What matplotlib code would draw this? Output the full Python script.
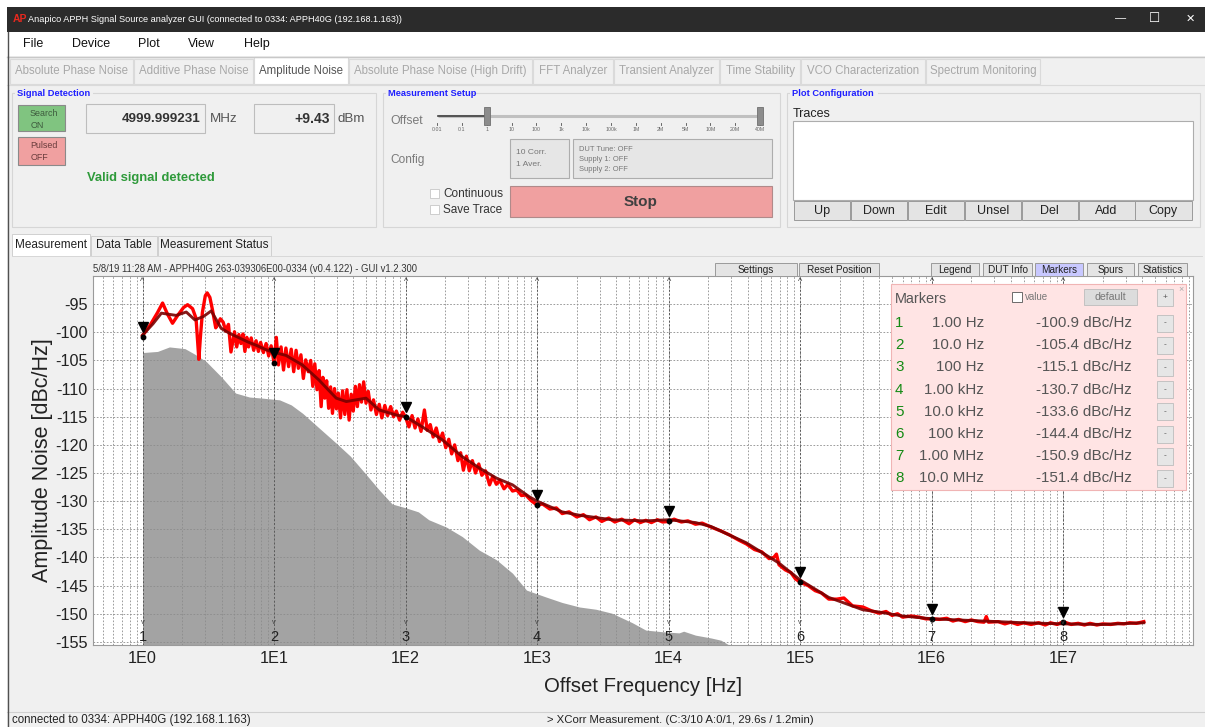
import matplotlib
matplotlib.use("Agg")
import matplotlib.pyplot as plt
from matplotlib.patches import Rectangle
from matplotlib.transforms import ScaledTranslation

plt.rcParams['font.family'] = ['Liberation Sans', 'DejaVu Sans']

# ---- chart data ----
marker_freqs = [1.0, 10.0, 100.0, 1e3, 1e4, 1e5, 1e6, 1e7]
marker_vals = [-100.9, -105.4, -115.1, -130.7, -133.6, -144.4, -150.9, -151.4]
marker_freq_labels = ["1.00 Hz", "10.0 Hz", "100 Hz", "1.00 kHz", "10.0 kHz", "100 kHz", "1.00 MHz", "10.0 MHz"]

# measured trace (noisy, bright red)
red_f = [1.0, 1.15, 1.3, 1.42, 1.55, 1.69, 1.85, 2.05, 2.2, 2.4, 2.55, 2.62, 2.68, 2.75, 2.85,
         3.0, 3.1, 3.25, 3.4, 3.6, 3.75, 3.9, 4.1, 4.3, 4.5, 4.7,
         5.0, 5.2, 5.4, 5.6, 5.8, 6.0, 6.2, 6.4, 6.7, 7.0, 7.3, 7.6, 7.9, 8.3, 8.7, 9.1, 9.5,
         10.0, 10.4, 10.8, 11.3, 11.8, 12.3, 12.9, 13.5, 14.1, 14.7, 15.3, 16.0, 16.7, 17.4,
         18.2, 19.0, 19.7, 20.4, 21.2, 22.0, 22.8, 23.5, 24.3, 25.1, 26.0, 26.9, 27.8, 28.8,
         29.8, 30.8, 32.0, 33.2, 34.5, 35.8, 37.2, 38.6, 40.0, 41.5, 43.0, 44.6, 46.2, 48.0,
         50.0, 52.0, 54.5, 57.0, 60.0, 63.0, 66.0, 69.5, 73.0, 77.0, 81.0, 85.0, 90.0, 95.0,
         100.0, 106.0, 112.0, 118.0, 124.0, 131.0, 139.0, 146.0, 154.0, 162.0, 171.0, 181.0,
         191.0, 202.0, 213.0, 224.0, 236.0, 250.0, 262.0, 275.0, 290.0, 305.0, 322.0, 340.0,
         360.0, 380.0, 405.0, 435.0, 460.0, 490.0, 520.0, 560.0, 600.0, 650.0, 700.0, 760.0,
         820.0, 900.0, 1000.0,
         1100.0, 1250.0, 1400.0, 1550.0, 1750.0, 2000.0, 2250.0, 2500.0, 2800.0, 3100.0, 3500.0,
         3900.0, 4400.0, 5000.0, 5500.0, 6100.0, 6700.0, 7400.0, 8200.0, 9000.0, 10000.0,
         11000.0, 12500.0, 14000.0, 16000.0, 18000.0, 21000.0, 25000.0, 29000.0, 34000.0,
         39000.0, 45000.0, 51000.0, 58000.0, 63000.0, 66000.0, 69000.0, 77000.0, 85000.0,
         92000.0, 1e5, 1.15e5, 1.3e5, 1.45e5, 1.65e5, 1.9e5, 2.15e5, 2.5e5, 3e5, 3.5e5, 4e5,
         4.5e5, 5e5, 5.5e5, 6e5, 7e5, 8e5, 9e5, 1e6, 1.15e6, 1.3e6, 1.45e6, 1.6e6, 1.8e6, 2e6,
         2.25e6, 2.5e6, 2.6e6, 2.7e6, 3.2e6, 3.6e6, 4e6, 4.5e6, 5e6, 5.7e6, 6.5e6, 7.3e6, 8e6,
         9e6, 1e7, 1.15e7, 1.3e7, 1.45e7, 1.6e7, 1.8e7, 2e7, 2.3e7, 2.6e7, 2.9e7, 3.2e7, 3.6e7,
         4.1e7]
red_v = [-100.6, -98.6, -96.5, -94.8, -96.8, -98.4, -97.0, -95.6, -95.1, -95.8, -97.5, -101.5,
         -104.8, -101.0, -96.5, -93.5, -93.0, -93.8, -96.0, -99.2, -98.5, -97.6, -98.2, -99.8,
         -98.6, -103.5,
         -99.9, -102.6, -100.4, -102.0, -100.3, -103.4, -100.9, -102.6, -101.0, -103.2, -101.5,
         -103.4, -101.8, -103.6, -102.0, -104.2, -102.4,
         -105.4, -100.9, -105.8, -102.6, -106.7, -102.8, -106.1, -103.0, -107.0, -103.2, -106.4,
         -104.0, -108.2, -104.9, -107.0, -105.0, -109.6, -105.6, -110.2, -106.8, -113.2, -108.0,
         -111.7, -108.6, -113.5, -109.7, -114.4, -110.0, -113.6, -110.8, -115.2, -110.4, -114.6,
         -110.2, -115.6, -111.0, -114.0, -109.6, -113.2, -109.3, -112.4, -108.8, -112.6, -110.5,
         -113.8, -112.0, -114.6, -112.8, -115.2, -113.0, -114.8, -113.2, -115.0, -114.0, -115.6,
         -114.2, -115.1, -116.8, -114.8, -117.0, -115.4, -117.6, -113.8, -117.4, -116.4, -118.6,
         -117.0, -119.4, -117.9, -120.5, -119.0, -121.6, -120.0, -122.8, -121.4, -124.5, -122.0,
         -124.6, -122.8, -125.0, -123.4, -125.4, -124.6, -127.1, -125.6, -127.0, -126.3, -127.8,
         -127.0, -128.2, -128.0, -129.0, -128.9, -129.9, -130.7,
         -130.5, -131.4, -131.2, -132.2, -131.9, -132.8, -132.4, -133.3, -132.8, -133.6, -133.0,
         -133.7, -133.2, -134.0, -133.3, -133.8, -133.4, -133.8, -133.3, -133.7, -133.6, -133.2,
         -133.7, -133.5, -134.1, -133.9, -134.6, -135.3, -136.0, -136.9, -137.6, -138.6, -139.0,
         -140.2, -140.0, -139.4, -141.3, -142.2, -142.7, -143.8, -144.4, -145.0, -145.9, -146.3,
         -147.4, -147.4, -147.2, -148.6, -148.8, -149.5, -149.9, -149.6, -150.3, -150.0, -150.6,
         -150.4, -150.6, -150.9, -150.9, -151.0, -150.8, -151.3, -151.0, -151.4, -151.1, -151.4,
         -151.5, -150.5, -151.5, -151.4, -151.8, -151.5, -151.9, -151.6, -151.9, -151.6, -152.0,
         -151.6, -151.9, -151.4, -151.9, -151.7, -152.0, -151.7, -152.0, -151.8, -151.9, -151.7,
         -151.8, -151.6, -151.7, -151.4]

# averaged trace (dark red)
smooth_f = [1.0, 1.2, 1.39, 1.8, 2.15, 2.5, 2.9, 3.33, 3.96, 4.6, 5.45, 6.3, 7.3, 8.5, 9.7,
            12.3, 16.4, 22.0, 26.0, 29.7, 35.4, 42.0, 50.0, 63.0, 85.0, 100.0, 134.0, 190.0,
            270.0, 363.0, 490.0, 650.0, 870.0, 1000.0, 1550.0, 2100.0, 3700.0, 6700.0, 10000.0,
            16000.0, 21000.0, 39000.0, 69000.0, 1e5, 1.65e5, 3e5, 4e5, 6e5, 1e6, 2e6, 5e6, 1e7,
            2e7, 4.1e7]
smooth_v = [-100.5, -98.5, -96.6, -97.0, -96.4, -97.8, -97.2, -96.2, -99.3, -100.2, -101.0,
            -101.7, -102.3, -103.0, -103.5, -104.1, -105.8, -108.5, -110.3, -111.7, -112.3,
            -112.0, -111.7, -113.8, -114.7, -115.0, -116.8, -119.1, -122.1, -124.1, -125.9,
            -127.1, -129.2, -130.0, -131.9, -132.5, -133.3, -133.5, -133.3, -133.8, -134.5,
            -137.4, -141.0, -144.0, -147.1, -149.3, -149.7, -150.4, -150.9, -151.2, -151.6,
            -151.8, -151.9, -151.6]

# sensitivity floor (grey area)
floor_f = [1.0, 1.3, 1.6, 2.1, 2.5, 3.05, 4.0, 5.1, 6.5, 8.2, 11.0, 13.5, 16.5, 22.0, 29.7,
           38.0, 47.0, 63.0, 79.0, 101.0, 125.0, 150.0, 204.0, 270.0, 363.0, 490.0, 650.0,
           830.0, 1160.0, 1550.0, 2100.0, 2800.0, 3700.0, 5300.0, 6700.0, 9000.0, 12000.0,
           13000.0, 16000.0, 21000.0, 25000.0, 29000.0]
floor_v = [-103.6, -103.4, -102.6, -102.9, -103.9, -105.2, -108.0, -110.8, -111.5, -111.7,
           -112.0, -112.9, -114.4, -117.0, -119.7, -122.0, -124.5, -128.0, -130.5, -131.2,
           -131.9, -133.3, -134.6, -136.3, -138.7, -140.4, -142.8, -145.8, -147.0, -148.0,
           -148.8, -149.2, -149.9, -151.6, -152.9, -153.2, -153.4, -153.1, -153.8, -154.3,
           -154.7, -155.6]

x_tick_vals = [1e0, 1e1, 1e2, 1e3, 1e4, 1e5, 1e6, 1e7]
x_tick_labels = ["1E0", "1E1", "1E2", "1E3", "1E4", "1E5", "1E6", "1E7"]
y_tick_vals = list(range(-155, -94, 5))

W, H = 1205, 727
fig = plt.figure(figsize=(W / 100, H / 100), dpi=100)
fig.patch.set_facecolor("white")

# background GUI layer in pixel coordinates
bg = fig.add_axes([0, 0, 1, 1], zorder=0)
bg.set_xlim(0, W)
bg.set_ylim(H, 0)
bg.axis("off")

PANEL = "#f0f0f0"
EDGE = "#a9a9a9"
TXT = "#333333"
BLUE = "#1f1fff"


def box(a, x0, y0, x1, y1, fc=PANEL, ec=EDGE, lw=0.8, z=1):
    a.add_patch(Rectangle((x0, y0), x1 - x0, y1 - y0, facecolor=fc, edgecolor=ec, linewidth=lw, zorder=z))


def txt(a, x, y, s, size=8, color=TXT, ha="left", va="center", weight="normal", z=3, **kw):
    a.text(x, y, s, fontsize=size, color=color, ha=ha, va=va, fontweight=weight, zorder=z, **kw)


# window frame
box(bg, 7, 7, W, H, fc=PANEL, ec="none", z=0)
box(bg, 7, 7, W, 32, fc="#2b2b2b", ec="none")
bg.plot([7.5, 7.5], [32, H], color="#505050", lw=1, zorder=4)
txt(bg, 13, 19.5, "AP", 7.5, "#e8281e", weight="bold")
txt(bg, 28, 19.5, "Anapico APPH Signal Source analyzer GUI (connected to 0334: APPH40G (192.168.1.163))", 6.6, "white")
txt(bg, 1121, 18, "\u2014", 8, "white", ha="center")
txt(bg, 1155, 18.5, "\u2610", 9, "white", ha="center", family=["DejaVu Sans"])
txt(bg, 1190, 18.5, "\u2715", 8, "white", ha="center", family=["DejaVu Sans"])

# menu bar
box(bg, 7, 32, W, 56, fc="white", ec="none")
for label, x in [("File", 23), ("Device", 72), ("Plot", 138), ("View", 188), ("Help", 244)]:
    txt(bg, x, 44, label, 9, "#111111")
bg.plot([7, W], [56.5, 56.5], color="#c8c8c8", lw=1, zorder=2)

# analysis tabs
tabs = [("Absolute Phase Noise", 10, 133), ("Additive Phase Noise", 134, 253),
        ("Amplitude Noise", 254, 348), ("Absolute Phase Noise (High Drift)", 349, 532),
        ("FFT Analyzer", 533, 613), ("Transient Analyzer", 614, 719),
        ("Time Stability", 720, 800), ("VCO Characterization", 801, 925),
        ("Spectrum Monitoring", 926, 1040)]
for label, x0, x1 in tabs:
    sel = label == "Amplitude Noise"
    box(bg, x0, 59 if not sel else 57, x1, 84, fc="white" if sel else PANEL, ec="#dadada", lw=0.8)
    txt(bg, (x0 + x1) / 2, 71, label, 8.3, "#555555" if sel else "#a8a8a8", ha="center")
bg.plot([7, W], [84.5, 84.5], color="#dadada", lw=0.8, zorder=2)

# group boxes
for title, x0, x1 in [("Signal Detection", 12, 376), ("Measurement Setup", 383, 780),
                      ("Plot Configuration", 787, 1200)]:
    box(bg, x0, 93, x1, 227, fc=PANEL, ec="#d6d6d6", lw=0.8)
    bg.add_patch(Rectangle((x0 + 3, 88), len(title) * 4.9, 10, facecolor=PANEL, edgecolor="none", zorder=2))
    txt(bg, x0 + 5, 93.5, title, 6.7, BLUE, weight="bold")

# signal detection
box(bg, 18, 105, 65, 131, fc="#80c480", ec="#8a8a8a")
txt(bg, 44, 113, "Search", 6.4, "#3d5a3d", ha="center")
txt(bg, 31, 125, "ON", 6.4, "#3d5a3d")
box(bg, 18, 137, 65, 165, fc="#f0a0a0", ec="#8a8a8a")
txt(bg, 44, 145.5, "Pulsed", 6.4, "#6a3d3d", ha="center")
txt(bg, 31, 157.5, "OFF", 6.4, "#6a3d3d")
box(bg, 86, 104, 205, 133, fc=PANEL, ec="#bdbdbd")
txt(bg, 201, 119, "4999.999231", 9.6, "#333333", ha="right", weight="bold")
txt(bg, 210, 119, "MHz", 9.6, "#555555")
box(bg, 254, 104, 334, 133, fc=PANEL, ec="#bdbdbd")
txt(bg, 330, 119, "+9.43", 10, "#333333", ha="right", weight="bold")
txt(bg, 338, 119, "dBm", 9.6, "#555555")
txt(bg, 87, 178.5, "Valid signal detected", 9.4, "#2e9a3a", weight="bold")

# measurement setup
txt(bg, 390, 121, "Offset", 8.8, "#7a7a7a")
bg.plot([438, 762], [116, 116], color="#c0c0c0", lw=2.2, zorder=2, solid_capstyle="butt")
bg.plot([438, 487], [116, 116], color="#404040", lw=1.2, zorder=2)
box(bg, 484, 107, 490, 125, fc="#8c8c8c", ec="#707070", lw=0.6, z=3)
box(bg, 757, 107, 763, 125, fc="#8c8c8c", ec="#707070", lw=0.6, z=3)
slider_labels = ["0.01", "0.1", "1", "10", "100", "1k", "10k", "100k", "1M", "2M", "5M", "10M", "20M", "40M"]
for i, lab in enumerate(slider_labels):
    xs = 437 + i * 24.85
    bg.plot([xs, xs], [123, 125], color="#505050", lw=0.6, zorder=2)
    txt(bg, xs, 129.5, lab, 3.8, "#666666", ha="center")
txt(bg, 390, 160, "Config", 8.6, "#7a7a7a")
box(bg, 510, 139, 569, 178, fc="#e6e6e6", ec="#adadad")
txt(bg, 516, 153, "10 Corr.", 6.1, "#777777")
txt(bg, 516, 165, "1 Aver.", 6.1, "#777777")
box(bg, 573, 139, 772, 178, fc="#e6e6e6", ec="#adadad")
for j, line in enumerate(["DUT Tune: OFF", "Supply 1: OFF", "Supply 2: OFF"]):
    txt(bg, 579, 149.5 + j * 10, line, 5.4, "#777777")
for j, label in enumerate(["Continuous", "Save Trace"]):
    box(bg, 430, 189 + j * 16, 439, 198 + j * 16, fc="white", ec="#c6c6c6", lw=0.6)
    txt(bg, 443, 194 + j * 16, label, 8.5, "#333333")
box(bg, 510, 186, 772, 217, fc="#f0a0a0", ec="#b08a8a")
txt(bg, 641, 202, "Stop", 11, "#404040", ha="center", weight="bold")

# plot configuration
txt(bg, 793, 114, "Traces", 9, "#222222")
box(bg, 793, 121, 1193, 200, fc="white", ec="#adadad")
for j, label in enumerate(["Up", "Down", "Edit", "Unsel", "Del", "Add", "Copy"]):
    x0 = 794 + j * 56.9
    box(bg, x0, 201, x0 + 56.3, 220, fc="#e4e4e4", ec="#9a9a9a", lw=0.7)
    txt(bg, x0 + 28, 211, label, 9, "#222222", ha="center")

# measurement tabs
for label, x0, x1 in [("Measurement", 12, 90), ("Data Table", 91, 157), ("Measurement Status", 158, 271)]:
    sel = label == "Measurement"
    box(bg, x0, 234 if sel else 236, x1, 256, fc="white" if sel else PANEL, ec="#d0d0d0", lw=0.7)
    txt(bg, (x0 + x1) / 2, 245.5, label, 8.5, "#222222", ha="center")
bg.plot([12, 1202], [256, 256], color="#d8d8d8", lw=0.7, zorder=2)
bg.plot([7, W], [711.5, 711.5], color="#d0d0d0", lw=0.8, zorder=2)
txt(bg, 12, 720, "connected to 0334: APPH40G (192.168.1.163)", 8.3, "#222222")
txt(bg, 547, 720, "> XCorr Measurement. (C:3/10 A:0/1, 29.6s / 1.2min)", 8.2, "#222222")

txt(bg, 93, 269.5, "5/8/19 11:28 AM - APPH40G 263-039306E00-0334 (v0.4.122) - GUI v1.2.300", 6.85, "#333333")

# ---- main chart ----
ax_l, ax_t, ax_r, ax_b = 93, 276, 1193, 645
ax = fig.add_axes([ax_l / W, 1 - ax_b / H, (ax_r - ax_l) / W, (ax_b - ax_t) / H], zorder=1)
ax.set_xscale("log")
ax.set_xlim(0.42, 9.7e7)
ax.set_ylim(-155.55, -90)
ax.set_axisbelow("line")

ax.fill_between(floor_f, floor_v, -160, color="#a3a3a3", linewidth=0, zorder=1)
ax.plot(red_f, red_v, color="#ff0000", lw=2.4, zorder=2, solid_joinstyle="round")
ax.plot(smooth_f, smooth_v, color="#7a0000", lw=2.1, alpha=0.9, zorder=3, solid_joinstyle="round")

ax.set_xticks(x_tick_vals)
ax.set_xticklabels(x_tick_labels)
ax.set_yticks(y_tick_vals)
ax.set_yticklabels([str(v) for v in y_tick_vals])
ax.tick_params(axis="both", which="both", length=0, labelsize=11.7, colors="#222222", pad=4)
ax.grid(True, which="both", axis="x", color="#8c8c8c", linestyle=(0, (2, 2)), linewidth=0.6)
ax.grid(True, which="major", axis="y", color="#8c8c8c", linestyle=(0, (2, 2)), linewidth=0.6)
for s in ax.spines.values():
    s.set_color("#9a9a9a")
    s.set_linewidth(0.8)
ax.set_xlabel("Offset Frequency [Hz]", fontsize=14.7, color="#222222", labelpad=8)
ax.set_ylabel("Amplitude Noise [dBc/Hz]", fontsize=15.5, color="#222222", labelpad=1)

tri_shift = ax.transData + ScaledTranslation(0, 10 / 100, fig.dpi_scale_trans)
for i, (f, v) in enumerate(zip(marker_freqs, marker_vals)):
    ax.axvline(f, color="#5a5a5a", linestyle=(0, (2, 2)), lw=0.7, zorder=1.6)
    ax.plot(f, v, "o", color="black", ms=3.2, zorder=5)
    ax.plot(f, v, marker="v", color="black", ms=7.5, zorder=5, linestyle="none", transform=tri_shift)
    ax.text(f, -90.2, "^", fontsize=6.5, ha="center", va="top", color="#444444", zorder=5)
    ax.text(f, -151.6, "v", fontsize=5.5, ha="center", va="center", color="#444444", zorder=5)
    ax.text(f, -154.2, str(i + 1), fontsize=10.5, ha="center", va="center", color="#222222", zorder=5)

# ---- overlay: chart buttons and marker table ----
ov = fig.add_axes([0, 0, 1, 1], zorder=2)
ov.set_xlim(0, W)
ov.set_ylim(H, 0)
ov.axis("off")

for label, x0, x1, fc in [("Settings", 715, 797, "#e4e4e4"), ("Reset Position", 799, 879, "#e4e4e4"),
                          ("Legend", 931, 979, "#e4e4e4"), ("DUT Info", 983, 1032, "#e4e4e4"),
                          ("Markers", 1035, 1083, "#c8c8ff"), ("Spurs", 1087, 1134, "#e4e4e4"),
                          ("Statistics", 1138, 1187, "#e4e4e4")]:
    box(ov, x0, 263, x1, 276, fc=fc, ec="#9a9a9a", lw=0.7)
    txt(ov, (x0 + x1) / 2, 270, label, 7.2, "#222222", ha="center")

box(ov, 891, 284, 1186, 490, fc="#ffe4e4", ec="#f0b4b4", lw=0.8)
txt(ov, 895, 299, "Markers", 10.4, "#555555")
box(ov, 1012, 292, 1022, 302, fc="white", ec="#555555", lw=0.6)
txt(ov, 1025, 297, "value", 7, "#777777")
box(ov, 1084, 289, 1137, 305, fc="#dcdcdc", ec="#bdbdbd", lw=0.6)
txt(ov, 1110, 297, "default", 7.6, "#777777", ha="center")
box(ov, 1157, 289, 1173, 306, fc="#e6e6e6", ec="#bdbdbd", lw=0.6)
txt(ov, 1165, 297.5, "+", 6, "#555555", ha="center")
txt(ov, 1181, 290, "\u00d7", 6.5, "#aaaaaa", ha="center")
for i, (lab, v) in enumerate(zip(marker_freq_labels, marker_vals)):
    y = 323 + i * 22.2
    txt(ov, 895, y, str(i + 1), 10.9, "#148a14")
    txt(ov, 984, y, lab, 10.9, "#555555", ha="right")
    txt(ov, 1132, y, f"{v:.1f} dBc/Hz", 10.9, "#555555", ha="right")
    box(ov, 1157, y - 8.5, 1173, y + 8.5, fc="#e6e6e6", ec="#bdbdbd", lw=0.6)
    txt(ov, 1165, y, "-", 6, "#555555", ha="center")

fig.savefig("out.png", dpi=100)
